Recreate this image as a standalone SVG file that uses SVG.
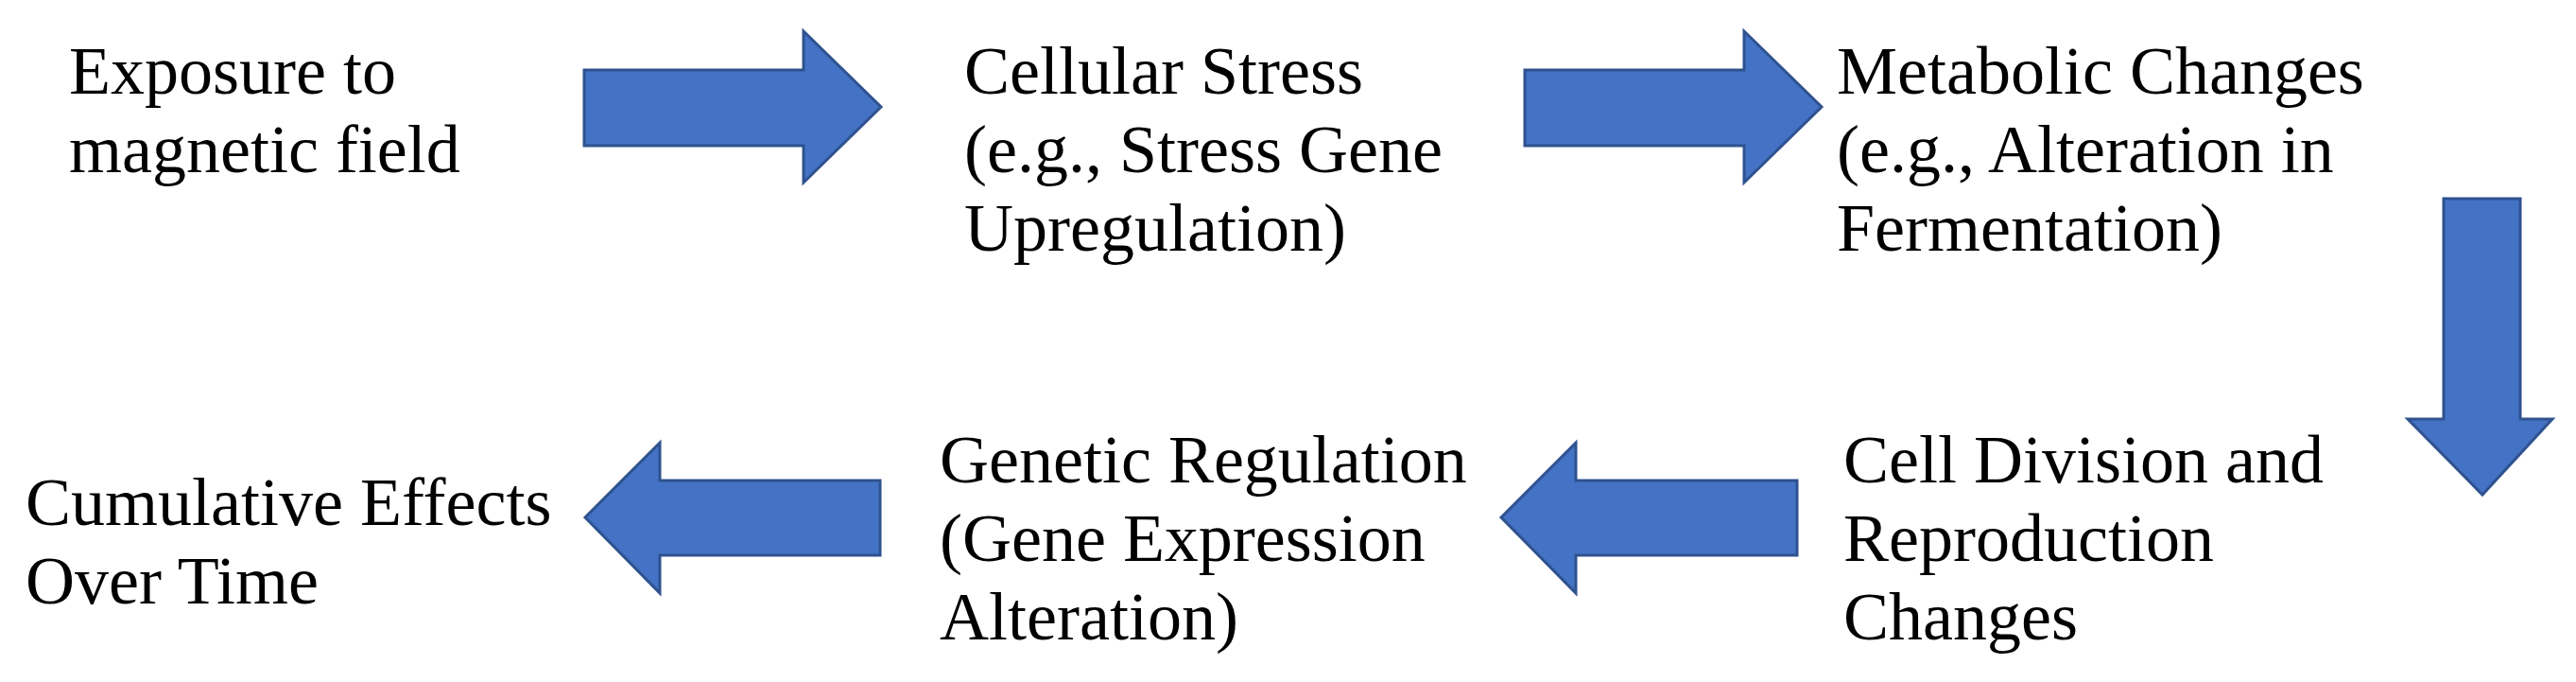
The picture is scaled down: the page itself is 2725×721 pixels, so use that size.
<svg xmlns="http://www.w3.org/2000/svg" width="2725" height="721" viewBox="0 0 2725 721">
<style>
text{font-family:"Liberation Serif","Times New Roman",serif;font-size:72px;fill:#000}
.ar{fill:#4472C4;stroke:#2F528F;stroke-width:3}
</style>
<rect width="2725" height="721" fill="#fff"/>
<g id="n1"><text x="73" y="99">Exposure to</text><text x="73" y="182">magnetic field</text></g>
<g id="n2"><text x="1020" y="99">Cellular Stress</text><text x="1020" y="182">(e.g., Stress Gene</text><text x="1020" y="265">Upregulation)</text></g>
<g id="n3"><text x="1943" y="99">Metabolic Changes</text><text x="1943" y="182">(e.g., Alteration in</text><text x="1943" y="265">Fermentation)</text></g>
<g id="n4"><text x="1950" y="510">Cell Division and</text><text x="1950" y="593">Reproduction</text><text x="1950" y="676">Changes</text></g>
<g id="n5"><text x="994" y="510">Genetic Regulation</text><text x="994" y="593">(Gene Expression</text><text x="994" y="676">Alteration)</text></g>
<g id="n6"><text x="27" y="555">Cumulative Effects</text><text x="27" y="638">Over Time</text></g>
<g id="connectors">
<polygon class="ar" points="618,74 850,74 850,33 932,113 850,193 850,154 618,154"/>
<polygon class="ar" points="1613,74 1845,74 1845,33 1927,113 1845,193 1845,154 1613,154"/>
<polygon class="ar" points="2585,210 2666,210 2666,443 2700,443 2626,523 2547,443 2585,443"/>
<polygon class="ar" points="1901,508 1667,508 1667,468 1588,547 1667,627 1667,587 1901,587"/>
<polygon class="ar" points="931,508 698,508 698,468 619,547 698,627 698,587 931,587"/>
</g>
</svg>
